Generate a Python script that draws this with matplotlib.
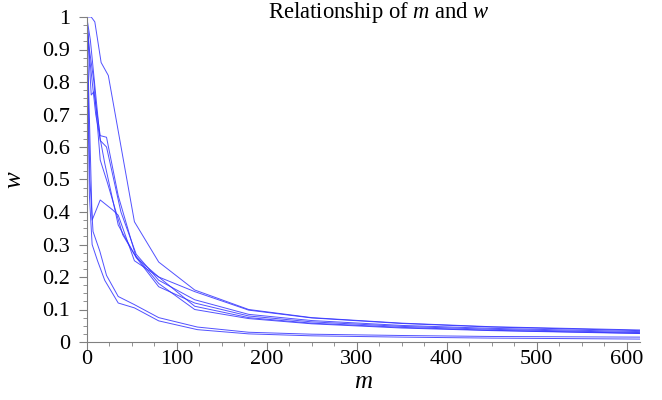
import numpy as np
import matplotlib.pyplot as plt
from matplotlib.ticker import MultipleLocator, FuncFormatter

plt.rcParams["font.family"] = ["Liberation Serif", "DejaVu Serif"]
plt.rcParams["mathtext.fontset"] = "custom"
plt.rcParams["mathtext.it"] = "Liberation Serif:italic"
plt.rcParams["mathtext.rm"] = "Liberation Serif"

# curves: (m values, w values)
m1 = [0, 5, 9, 16, 24, 53, 80, 120, 180, 250, 350, 450, 615]
w1 = [1, 1, 0.985, 0.86, 0.82, 0.37, 0.246, 0.16, 0.10, 0.075, 0.058, 0.047, 0.037]

m2 = [0, 5, 8, 15, 22, 35, 55, 80, 120, 180, 250, 350, 450, 615]
w2 = [1, 0.76, 0.77, 0.635, 0.63, 0.45, 0.26, 0.20, 0.155, 0.098, 0.074, 0.057, 0.046, 0.035]

m3 = [0, 3, 8, 15, 23, 40, 55, 80, 120, 180, 250, 350, 450, 615]
w3 = [1, 0.9, 0.8, 0.56, 0.49, 0.33, 0.26, 0.17, 0.12, 0.08, 0.062, 0.048, 0.039, 0.029]

m4 = [0, 4, 15, 22, 38, 55, 80, 120, 180, 250, 350, 450, 615]
w4 = [1, 0.93, 0.62, 0.60, 0.40, 0.27, 0.19, 0.13, 0.085, 0.066, 0.051, 0.042, 0.032]

m5 = [0, 6, 15, 29, 35, 53, 80, 120, 180, 250, 350, 450, 615]
w5 = [1, 0.375, 0.437, 0.406, 0.39, 0.25, 0.20, 0.11, 0.075, 0.058, 0.045, 0.036, 0.027]

m6 = [0, 3, 10, 20, 35, 53, 80, 120, 180, 250, 350, 450, 615]
w6 = [1, 0.88, 0.70, 0.55, 0.36, 0.27, 0.18, 0.10, 0.072, 0.056, 0.043, 0.035, 0.026]

m7 = [0, 3.5, 7, 14.5, 22, 35, 53, 80, 123, 180, 250, 350, 450, 615]
w7 = [1, 0.50, 0.34, 0.28, 0.205, 0.14, 0.115, 0.075, 0.046, 0.03, 0.024, 0.02, 0.017, 0.015]

m8 = [0, 3, 6, 12, 20, 35, 53, 80, 123, 180, 250, 350, 450, 615]
w8 = [1, 0.45, 0.30, 0.25, 0.19, 0.12, 0.105, 0.065, 0.038, 0.025, 0.019, 0.015, 0.012, 0.009]

curves = [(m1, w1), (m2, w2), (m3, w3), (m4, w4),
          (m5, w5), (m6, w6), (m7, w7), (m8, w8)]

fig = plt.figure(figsize=(6.62, 4.0), dpi=100)
ax = fig.add_axes([0.131, 0.145, 0.836, 0.8125])

for m, w in curves:
    ax.plot(m, w, color="#3333ff", linewidth=0.7, alpha=0.85)

ax.set_xlim(0, 615)
ax.set_ylim(0, 1)

ax.spines["top"].set_visible(False)
ax.spines["right"].set_visible(False)
ax.spines["left"].set_color("#808080")
ax.spines["bottom"].set_color("#808080")

ax.xaxis.set_major_locator(MultipleLocator(100))
ax.xaxis.set_minor_locator(MultipleLocator(25))
ax.yaxis.set_major_locator(MultipleLocator(0.1))
ax.yaxis.set_minor_locator(MultipleLocator(0.025))
ax.yaxis.set_major_formatter(FuncFormatter(lambda v, p: f"{v:.1f}".rstrip("0").rstrip(".") if v else "0"))

ax.tick_params(which="major", length=6, color="#808080", labelsize=16)
ax.tick_params(which="minor", length=3, color="#808080")
ax.tick_params(axis="x", which="major", pad=0)
ax.tick_params(axis="y", which="major", pad=6)

ax.set_xlabel("$m$", fontsize=18, labelpad=1)
ax.set_ylabel("$w$", fontsize=18, rotation=90, labelpad=12)

fig.text(0.573, 0.968, "Relationship of $m$ and $w$", ha="center", va="center", fontsize=16.3)

fig.savefig("out.png", dpi=100)
